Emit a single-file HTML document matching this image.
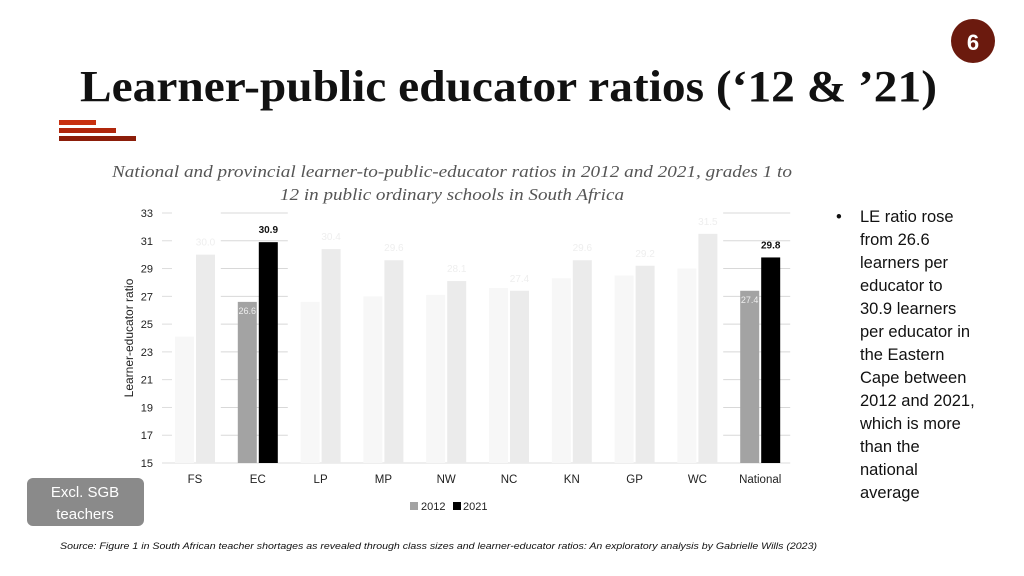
<!DOCTYPE html>
<html><head><meta charset="utf-8"><style>
html,body{margin:0;padding:0;background:#fff;}
svg{display:block;}
</style></head><body>
<svg id="slide" width="1024" height="576" viewBox="0 0 1024 576" xmlns="http://www.w3.org/2000/svg">
<circle cx="973" cy="41" r="22" fill="#6b1a0e"/>
<text x="973" y="50" text-anchor="middle" font-family="Liberation Sans, sans-serif" font-weight="bold" font-size="22" fill="#fff">6</text>
<text x="80" y="101" textLength="857" lengthAdjust="spacingAndGlyphs" font-family="Liberation Serif, serif" font-weight="bold" font-size="44" fill="#111">Learner-public educator ratios (‘12 &amp; ’21)</text>
<g>
<rect x="59" y="120" width="37" height="5" fill="#c8300f"/>
<rect x="59" y="128" width="57" height="5" fill="#b0270c"/>
<rect x="59" y="136" width="77" height="5" fill="#8c1e0a"/>
</g>
<text x="112" y="177" textLength="680" lengthAdjust="spacingAndGlyphs" font-family="Liberation Serif, serif" font-style="italic" font-size="17" fill="#555">National and provincial learner-to-public-educator ratios in 2012 and 2021, grades 1 to</text>
<text x="452" y="200" text-anchor="middle" textLength="344" lengthAdjust="spacingAndGlyphs" font-family="Liberation Serif, serif" font-style="italic" font-size="17" fill="#555">12 in public ordinary schools in South Africa</text>
<g id="chart"></g>
<g font-family="Liberation Sans, sans-serif" font-size="16.5" fill="#111">
<text x="836" y="222">•</text>
<text x="860" y="222">LE ratio rose</text>
<text x="860" y="245">from 26.6</text>
<text x="860" y="268">learners per</text>
<text x="860" y="291">educator to</text>
<text x="860" y="314">30.9 learners</text>
<text x="860" y="337">per educator in</text>
<text x="860" y="360">the Eastern</text>
<text x="860" y="383">Cape between</text>
<text x="860" y="406">2012 and 2021,</text>
<text x="860" y="429">which is more</text>
<text x="860" y="452">than the</text>
<text x="860" y="475">national</text>
<text x="860" y="498">average</text>
</g>
<rect x="27" y="478" width="117" height="48" rx="6" fill="#8a8a8a"/>
<text x="85" y="497" text-anchor="middle" font-family="Liberation Sans, sans-serif" font-size="15" fill="#fff">Excl. SGB</text>
<text x="85" y="519" text-anchor="middle" font-family="Liberation Sans, sans-serif" font-size="15" fill="#fff">teachers</text>
<text x="60" y="549" textLength="757" lengthAdjust="spacingAndGlyphs" font-family="Liberation Sans, sans-serif" font-style="italic" font-size="9.5" fill="#111">Source: Figure 1 in South African teacher shortages as revealed through class sizes and learner-educator ratios: An exploratory analysis by Gabrielle Wills (2023)</text>
</svg>
<script>
const categories = ["FS","EC","LP","MP","NW","NC","KN","GP","WC","National"];
const values2012 = [24.1,26.6,26.6,27.0,27.1,27.6,28.3,28.5,29.0,27.4];
const values2021 = [30.0,30.9,30.4,29.6,28.1,27.4,29.6,29.2,31.5,29.8];
const highlighted = ["EC","National"];
const yTicks = [15,17,19,21,23,25,27,29,31,33];

const NS = "http://www.w3.org/2000/svg";
const g = document.getElementById("chart");
const yMin = 15, yMax = 33, yTop = 213, yBot = 463;
const y = v => yBot - (v - yMin) / (yMax - yMin) * (yBot - yTop);
const x0 = 195, step = 62.8;
const xc = i => x0 + i * step;
function mk(tag, attrs, parent) {
  const e = document.createElementNS(NS, tag);
  for (const k in attrs) e.setAttribute(k, attrs[k]);
  (parent || g).appendChild(e);
  return e;
}
// ticks and gridlines
yTicks.forEach(t => {
  const lab = mk("text", {x: 153, y: y(t) + 4, "text-anchor": "end", "font-family": "Liberation Sans, sans-serif", "font-size": "11", fill: "#222"});
  
  
  lab.textContent = t;
  const tk = mk("line", {x1: 162, x2: 172, y1: y(t), y2: y(t), stroke: "#ddd", "stroke-width": 1});
  
  
});
categories.forEach((c, i) => {
  if (highlighted.includes(c)) {
    yTicks.forEach(t => {
      const gl = mk("line", {x1: xc(i) - 37, x2: xc(i) + 30, y1: y(t), y2: y(t), stroke: "#d8d8d8", "stroke-width": 1});
      
      
    });
  }
});
const base = mk("line", {x1: 162, x2: 790, y1: yBot, y2: yBot, stroke: "#ddd", "stroke-width": 1});


const bw = 19;
categories.forEach((c, i) => {
  const hi = highlighted.includes(c);
  const b1 = mk("rect", {x: xc(i) - 20, y: y(values2012[i]), width: bw, height: yBot - y(values2012[i]), fill: hi ? "#a3a3a3" : "#f7f7f7"});
  
  
  const b2 = mk("rect", {x: xc(i) + 1, y: y(values2021[i]), width: bw, height: yBot - y(values2021[i]), fill: hi ? "#000" : "#ebebeb"});
  
  
  const l2 = mk("text", {x: xc(i) + 10.5, y: y(values2021[i]) - 9, "text-anchor": "middle", "font-family": "Liberation Sans, sans-serif", "font-size": "10", "font-weight": hi ? "bold" : "normal", fill: hi ? "#111" : "#eee"});
  
  
  l2.textContent = values2021[i].toFixed(1);
  if (hi) {
    const l1 = mk("text", {x: xc(i) - 10.5, y: y(values2012[i]) + 12, "text-anchor": "middle", "font-family": "Liberation Sans, sans-serif", "font-size": "9", fill: "#eee"});
    
    
    l1.textContent = values2012[i].toFixed(1);
  }
  const xl = mk("text", {x: xc(i), y: 483, "text-anchor": "middle", "font-family": "Liberation Sans, sans-serif", "font-size": "11.5", fill: "#222"});
  
  
  xl.textContent = c;
});
const yt = mk("text", {x: 0, y: 0, transform: "translate(133,338) rotate(-90)", "text-anchor": "middle", "font-family": "Liberation Sans, sans-serif", "font-size": "12", fill: "#222"});


yt.textContent = "Learner-educator ratio";
const lg = mk("g", {});


mk("rect", {x: 410, y: 502, width: 8, height: 8, fill: "#a3a3a3"}, lg);
const lt1 = mk("text", {x: 421, y: 510, "font-family": "Liberation Sans, sans-serif", "font-size": "11", fill: "#222"}, lg);


lt1.textContent = "2012";
mk("rect", {x: 453, y: 502, width: 8, height: 8, fill: "#000"}, lg);
const lt2 = mk("text", {x: 463, y: 510, "font-family": "Liberation Sans, sans-serif", "font-size": "11", fill: "#222"}, lg);


lt2.textContent = "2021";
</script>
</body></html>
